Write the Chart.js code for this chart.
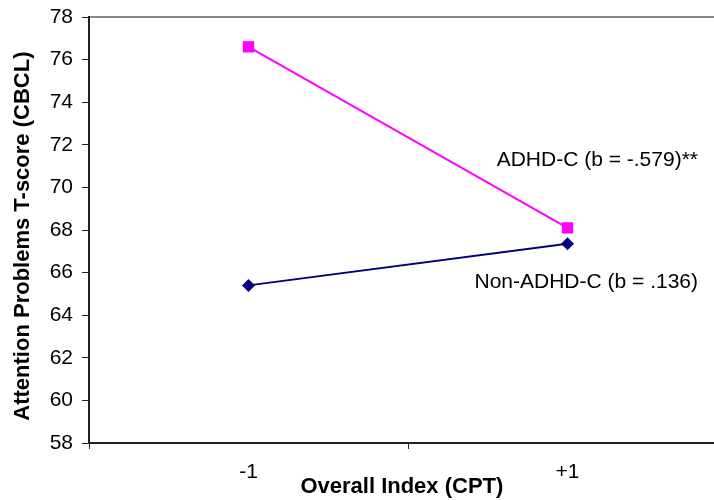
<!DOCTYPE html>
<html lang="en">
<head>
    <meta charset="UTF-8">
    <title>Attention Problems by Overall Index</title>
    <script src="https://cdn.jsdelivr.net/npm/chart.js"></script>
    <style>
        body { margin: 0; overflow: hidden; background: #fff; }
        #wrap { width: 735px; height: 500px; }
    </style>
</head>
<body>
    <div id="wrap"><canvas id="cptChart" width="735" height="500"></canvas></div>
    <script>
        // data
        const categories = ['-1', '+1'];
        const adhdValues = [76.6, 68.1];
        const nonAdhdValues = [65.4, 67.35];
        const yTicks = [58, 60, 62, 64, 66, 68, 70, 72, 74, 76, 78];
        const groupLabels = ['ADHD-C (b = -.579)**', 'Non-ADHD-C (b = .136)'];
        const groupLabelY = [71.3, 65.55];

        const FONT = '"Liberation Sans", Arial, Helvetica, sans-serif';

        // annotation text placed against the y scale
        const groupLabelPlugin = {
            id: 'groupLabels',
            afterDatasetsDraw(chart) {
                const ctx = chart.ctx;
                const y = chart.scales.y;
                ctx.save();
                ctx.font = '21px ' + FONT;
                ctx.fillStyle = '#000';
                ctx.textAlign = 'right';
                ctx.textBaseline = 'middle';
                groupLabels.forEach((t, i) => {
                    ctx.fillText(t, 698, y.getPixelForValue(groupLabelY[i]));
                });
                ctx.restore();
            }
        };

        const ctx = document.getElementById('cptChart').getContext('2d');
        new Chart(ctx, {
            type: 'line',
            data: {
                labels: categories,
                datasets: [
                    {
                        label: 'ADHD-C',
                        data: adhdValues,
                        borderColor: '#ff00ff',
                        backgroundColor: '#ff00ff',
                        borderWidth: 2,
                        pointStyle: 'rect',
                        pointRadius: 8,
                        pointBorderWidth: 0,
                        tension: 0
                    },
                    {
                        label: 'Non-ADHD-C',
                        data: nonAdhdValues,
                        borderColor: '#000080',
                        backgroundColor: '#000080',
                        borderWidth: 2,
                        pointStyle: 'rectRot',
                        pointRadius: 6.5,
                        pointBorderWidth: 0,
                        tension: 0
                    }
                ]
            },
            options: {
                responsive: false,
                animation: false,
                layout: { padding: 0 },
                plugins: {
                    legend: { display: false },
                    tooltip: { enabled: false }
                },
                scales: {
                    x: {
                        type: 'category',
                        position: 'bottom',
                        offset: true,
                        grid: {
                            offset: true,
                            drawOnChartArea: false,
                            drawTicks: true,
                            tickLength: 6,
                            color: '#222',
                            lineWidth: 1
                        },
                        border: { display: true, color: '#222', width: 2 },
                        ticks: {
                            color: '#000',
                            padding: 11,
                            font: { family: FONT, size: 21 }
                        },
                        title: {
                            display: true,
                            text: 'Overall Index (CPT)  ',
                            color: '#000',
                            padding: { top: 0, bottom: 0 },
                            font: { family: FONT, size: 22, weight: 'bold' }
                        },
                        afterFit(scale) { scale.height = 57; }
                    },
                    xTop: {
                        type: 'category',
                        position: 'top',
                        labels: categories,
                        grid: { display: false },
                        border: { display: true, color: '#888', width: 2 },
                        ticks: { display: false },
                        afterFit(scale) { scale.height = 17; }
                    },
                    y: {
                        min: 58,
                        max: 78,
                        afterBuildTicks(scale) {
                            scale.ticks = yTicks.map(v => ({ value: v }));
                        },
                        grid: {
                            drawOnChartArea: false,
                            drawTicks: true,
                            tickLength: 7,
                            color: '#222',
                            lineWidth: 1
                        },
                        border: { display: true, color: '#222', width: 2 },
                        ticks: {
                            color: '#000',
                            padding: 9,
                            font: { family: FONT, size: 21 }
                        },
                        title: {
                            display: true,
                            text: 'Attention Problems T-score (CBCL)  ',
                            color: '#000',
                            padding: { top: 10, bottom: 0 },
                            font: { family: FONT, size: 22, weight: 'bold' }
                        },
                        afterFit(scale) {
                            scale.width = 89;
                            scale.paddingTop = 0;
                            scale.paddingBottom = 0;
                        }
                    }
                }
            },
            plugins: [groupLabelPlugin]
        });
    </script>
</body>
</html>
